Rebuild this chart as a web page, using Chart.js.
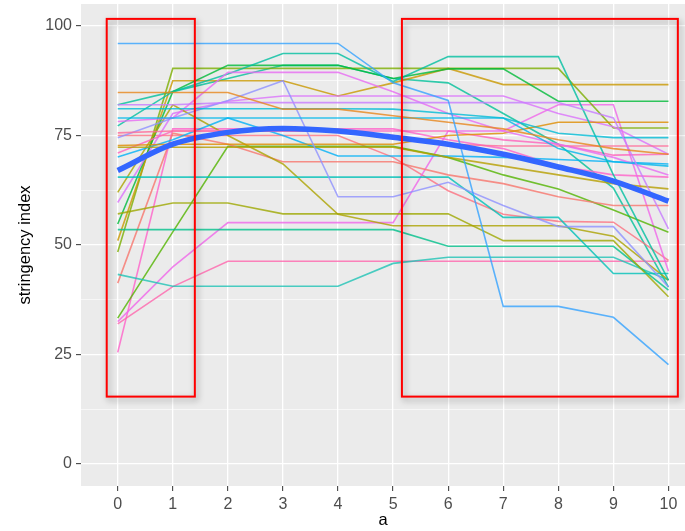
<!DOCTYPE html>
<html>
<head>
    <title>Stringency index</title>
    <style>
        html, body {
            margin: 0;
            padding: 0;
            background: #ffffff;
        }
        .chart-box {
            position: relative;
            width: 685px;
            height: 531px;
        }
    </style>
    <script src="https://cdn.jsdelivr.net/npm/chart.js"></script>
</head>
<body>
    <div class="chart-box"><canvas id="chart"></canvas></div>

    <script>
        // x values (a) and the y axis breaks
        const aValues = [0, 1, 2, 3, 4, 5, 6, 7, 8, 9, 10];
        const yMajorTicks = [0, 25, 50, 75, 100];
        const yMinorTicks = [12.5, 37.5, 62.5, 87.5];

        // stringency index per group, read at a = 0..10
        const s01 = [96, 96, 96, 96, 96, 87, 83, 36, 36, 33.5, 22.7];
        const s02 = [84.8, 84.8, 84.8, 81, 81, 79.5, 78, 76.5, 74, 72, 70.7];
        const s03 = [82, 82, 82.5, 82.5, 82.5, 82.5, 82.5, 82.5, 82.5, 79, 53.7];
        const s04 = [81.1, 81.1, 81.1, 81.1, 81.1, 81, 80, 79, 75.5, 74.5, 74.5];
        const s05 = [79, 79, 79, 79, 79, 79, 79, 79, 72, 69, 68];
        const s06 = [78.2, 79, 89.4, 89.4, 89.4, 85, 80, 76, 73, 70, 66];
        const s07 = [77.2, 85, 89, 93.7, 93.7, 87.3, 93, 93, 93, 66, 42];
        const s08 = [75.6, 76, 76, 76, 76, 75, 73, 72.6, 72.6, 72.6, 72.6];
        const s09 = [74.5, 79, 83, 87.5, 61, 61, 64.3, 59, 54.2, 54.2, 40.4];
        const s10 = [72.7, 73, 73, 73, 73, 73, 75, 75.5, 78, 78, 78];
        const s11 = [72.3, 72.3, 72.3, 72.3, 72.3, 72.3, 70, 68, 66, 64, 62.8];
        const s12 = [71, 76, 76, 76, 76, 76, 76, 74, 73, 70.5, 70.7];
        const s13 = [70.1, 74, 79, 75, 70.3, 70.3, 70.3, 70, 69.5, 69, 68.5];
        const s14 = [65.5, 65.5, 65.5, 65.5, 65.5, 65.5, 65.5, 56.3, 56.3, 43.5, 43.5];
        const s15 = [62, 82, 75, 68.5, 57, 54.4, 54.4, 54.4, 54.4, 52, 42];
        const s16 = [59.7, 80, 82.8, 84, 84, 84, 84, 84, 80, 77, 70.7];
        const s17 = [57.1, 59.6, 59.6, 57.1, 57.1, 57.1, 57.1, 51, 51, 51, 38.2];
        const s18 = [54.8, 85, 91, 91, 91, 88, 90.2, 90.2, 82.8, 82.8, 82.8];
        const s19 = [53.5, 53.5, 53.5, 53.5, 53.5, 53.5, 49.7, 49.7, 49.7, 49.7, 39.7];
        const s20 = [51, 87.5, 87.5, 87.5, 84, 87, 90.3, 86.6, 86.6, 86.6, 86.6];
        const s21 = [48.4, 90.3, 90.3, 90.3, 90.3, 90.3, 90.3, 90.3, 90.3, 76.7, 76.7];
        const s22 = [43.3, 40.6, 40.6, 40.6, 40.6, 45.8, 47.2, 47.2, 47.2, 47.2, 42];
        const s23 = [41.3, 75.5, 73, 69, 69, 69, 66, 64, 61, 59, 59];
        const s24 = [33.3, 53, 72.5, 72.5, 72.5, 72.5, 70, 66, 62.8, 58, 52.9];
        const s25 = [32.5, 45, 55.1, 55.1, 55.1, 55.1, 76, 76, 82, 82, 44];
        const s26 = [32, 40.5, 46.3, 46.3, 46.3, 46.3, 46.3, 46.3, 46.3, 46.3, 46.3];
        const s27 = [25.5, 76.5, 76.5, 76.5, 76.5, 76.5, 74, 72, 68, 66, 65.5];
        const s28 = [75, 75, 75, 75, 75, 70, 62.4, 57, 55.4, 55.2, 46.5];
        const s29 = [82, 85, 88, 91, 91, 88, 87, 80, 73, 63, 40.4];

        // loess fit drawn on top
        const smoothFit = [67, 73, 75.7, 76.6, 76, 74.6, 73, 70.7, 67.8, 64.6, 60];

        // red highlight boxes: [a from, a to, index from, index to]
        const leftBox = [-0.2, 1.4, 15.4, 101.6];
        const rightBox = [5.16, 10.17, 15.4, 101.6];

        const groups = [s01, s02, s03, s04, s05, s06, s07, s08, s09, s10,
                        s11, s12, s13, s14, s15, s16, s17, s18, s19, s20,
                        s21, s22, s23, s24, s25, s26, s27, s28, s29];
        const groupColors = ['#35A2FF', '#E7861B', '#C77CFF', '#00BCD6', '#00B6EB',
                             '#E76BF3', '#00BFA0', '#FF6A98', '#8F91FF', '#DE8C00',
                             '#B79F00', '#FF62BC', '#00B0F6', '#00C0B8', '#ABA300',
                             '#DB72FB', '#9DA700', '#00BA38', '#00C08B', '#C99800',
                             '#7CAE00', '#1FC3B5', '#F8766D', '#53B400', '#F066EA',
                             '#FF65AC', '#FF61C9', '#FC717F', '#00C19A'];

        function toPoints(values) {
            return values.map((v, i) => ({ x: aValues[i], y: v }));
        }

        const datasets = groups.map((values, i) => ({
            data: toPoints(values),
            borderColor: groupColors[i] + 'CC',
            borderWidth: 1.6,
            pointRadius: 0,
            tension: 0,
            order: 1
        }));
        datasets.push({
            data: toPoints(smoothFit),
            borderColor: '#3366FF',
            borderWidth: 5.5,
            pointRadius: 0,
            cubicInterpolationMode: 'monotone',
            order: 0
        });

        // grey ggplot panel behind the grid
        const panelPlugin = {
            id: 'panel',
            beforeDraw(chart) {
                const { ctx, chartArea: a } = chart;
                ctx.save();
                ctx.fillStyle = '#EBEBEB';
                ctx.fillRect(a.left, a.top, a.right - a.left, a.bottom - a.top);
                ctx.restore();
            }
        };

        // red rectangles with a soft shadow
        const boxPlugin = {
            id: 'boxes',
            afterDraw(chart) {
                const { ctx, scales: { x, y } } = chart;
                [leftBox, rightBox].forEach(b => {
                    const x0 = x.getPixelForValue(b[0]);
                    const x1 = x.getPixelForValue(b[1]);
                    const y0 = y.getPixelForValue(b[3]);
                    const y1 = y.getPixelForValue(b[2]);
                    ctx.save();
                    ctx.shadowColor = 'rgba(0, 0, 0, 0.35)';
                    ctx.shadowBlur = 6;
                    ctx.shadowOffsetX = 2;
                    ctx.shadowOffsetY = 3;
                    ctx.strokeStyle = '#FF0000';
                    ctx.lineWidth = 2;
                    ctx.strokeRect(x0, y0, x1 - x0, y1 - y0);
                    ctx.restore();
                });
            }
        };

        const tickFont = { family: '"Liberation Sans", Arial, sans-serif', size: 16 };
        const titleFont = { family: '"Liberation Sans", Arial, sans-serif', size: 16.5 };

        new Chart(document.getElementById('chart'), {
            type: 'line',
            data: { datasets: datasets },
            plugins: [panelPlugin, boxPlugin],
            options: {
                responsive: true,
                maintainAspectRatio: false,
                animation: false,
                layout: { padding: { top: 4, right: 0, bottom: 0, left: 0 } },
                plugins: {
                    legend: { display: false },
                    tooltip: { enabled: false }
                },
                scales: {
                    x: {
                        type: 'linear',
                        min: -0.667,
                        max: 10.3,
                        afterBuildTicks: s => { s.ticks = aValues.map(v => ({ value: v })); },
                        afterFit: s => {
                            s.height = 45;
                            s.paddingLeft = 0;
                            s.paddingRight = 0;
                        },
                        border: { display: false },
                        grid: {
                            color: '#FFFFFF',
                            lineWidth: 1.3,
                            tickColor: '#333333',
                            tickWidth: 1,
                            tickLength: 5
                        },
                        ticks: {
                            autoSkip: false,
                            maxRotation: 0,
                            color: '#4D4D4D',
                            font: tickFont,
                            padding: 4
                        },
                        title: {
                            display: true,
                            text: 'a',
                            color: '#000000',
                            font: titleFont,
                            padding: { top: 0, bottom: 1 }
                        }
                    },
                    y: {
                        type: 'linear',
                        min: -5,
                        max: 105,
                        afterBuildTicks: s => {
                            s.ticks = yMajorTicks.concat(yMinorTicks)
                                .sort((p, q) => p - q)
                                .map(v => ({ value: v }));
                        },
                        afterFit: s => {
                            s.width = 81;
                            s.paddingTop = 0;
                            s.paddingBottom = 0;
                        },
                        border: { display: false },
                        grid: {
                            color: '#FFFFFF',
                            lineWidth: ctx => yMajorTicks.includes(ctx.tick.value) ? 1.3 : 0.6,
                            tickColor: ctx => yMajorTicks.includes(ctx.tick.value) ? '#333333' : 'rgba(0,0,0,0)',
                            tickWidth: 1,
                            tickLength: 5
                        },
                        ticks: {
                            autoSkip: false,
                            color: '#4D4D4D',
                            font: tickFont,
                            padding: 4,
                            callback: v => yMajorTicks.includes(v) ? String(v) : ''
                        },
                        title: {
                            display: true,
                            text: 'stringency index',
                            color: '#000000',
                            font: titleFont,
                            padding: { top: 16, bottom: 0 }
                        }
                    }
                }
            }
        });
    </script>
</body>
</html>
